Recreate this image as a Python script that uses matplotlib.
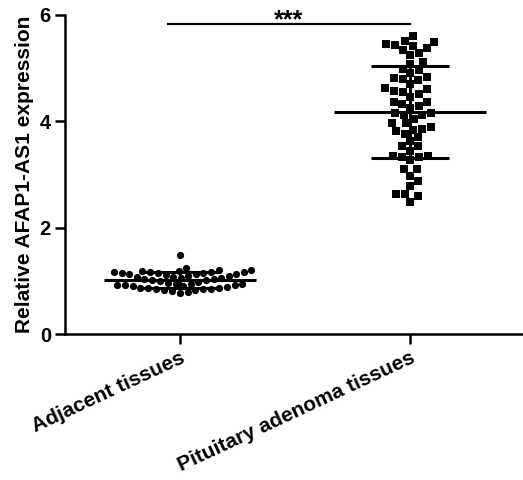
import numpy as np
import matplotlib
matplotlib.use("Agg")
import matplotlib.pyplot as plt

plt.rcParams['font.family'] = ['Liberation Sans', 'DejaVu Sans']
plt.rcParams['font.weight'] = 'bold'

# data
groups = ['Adjacent tissues', 'Pituitary adenoma tissues']
adjacent = [1.49,
            1.24, 1.21, 1.20, 1.19, 1.18, 1.17, 1.17, 1.16, 1.16, 1.15, 1.15,
            1.14, 1.13, 1.12, 1.12, 1.11,
            1.10, 1.09, 1.08, 1.07, 1.06, 1.05, 1.04, 1.03, 1.02, 1.01,
            1.00, 0.98,
            0.96, 0.95, 0.95, 0.94, 0.93, 0.93, 0.92, 0.91, 0.90,
            0.88, 0.87, 0.86, 0.86, 0.85, 0.84, 0.84, 0.83, 0.82, 0.81,
            0.79, 0.78]
adenoma = [5.60, 5.51, 5.46, 5.49, 5.41, 5.43, 5.34, 5.38, 5.29, 5.25, 5.11, 5.08,
           4.99, 4.96, 4.90, 4.83, 4.80, 4.77, 4.81, 4.70, 4.62, 4.57, 4.52, 4.46,
           4.55, 4.60, 4.37, 4.32, 4.25, 4.29, 4.36, 4.15, 4.12, 4.05, 4.12, 4.16,
           3.96, 3.86, 3.81, 3.76, 3.84, 3.90, 3.96, 3.70, 3.63, 3.53, 3.53, 3.45,
           3.35, 3.32, 3.27, 3.33, 3.35, 3.10, 3.10, 2.98, 2.88, 2.78, 2.63, 2.59,
           2.63, 2.49]
signif = '***'

fig = plt.figure(figsize=(5.23, 4.8), dpi=100)
ax = fig.add_axes([0.124, 0.304, 0.876, 0.665])
ax.set_xlim(0.5, 2.49)
ax.set_ylim(0, 6)


def swarm(vals, center, diam_px=7.6):
    # simple beeswarm in pixel space so dots don't overlap
    fig.canvas.draw()
    px_x = ax.transData.transform([(1, 0), (2, 0)])
    px_y = ax.transData.transform([(0, 0), (0, 1)])
    sx = px_x[1, 0] - px_x[0, 0]
    sy = px_y[1, 1] - px_y[0, 1]
    order = np.argsort(vals)
    placed = []
    xs = np.zeros(len(vals))
    for i in order:
        y = vals[i] * sy
        k = 0
        while True:
            off = ((k + 1) // 2) * (1 if k % 2 else -1) * 0.5
            ok = all((off - px) ** 2 + (y - py) ** 2 >= diam_px ** 2 for px, py in placed)
            if ok:
                break
            k += 1
        placed.append((off, y))
        xs[i] = center + off / sx
    return xs


markers = ['o', 's']
spacing = [7.6, 8.8]  # squares need a bit more room
for i, vals in enumerate([adjacent, adenoma]):
    vals = np.array(vals)
    c = i + 1
    xs = swarm(vals, c, spacing[i])
    ax.plot(xs, vals, linestyle='none', marker=markers[i], markersize=5.2,
            color='black', markeredgewidth=0)
    m = vals.mean()
    sd = vals.std(ddof=1)
    ax.plot([c - 0.33, c + 0.33], [m, m], color='black', lw=2.2, solid_capstyle='butt')
    ax.plot([c - 0.17, c + 0.17], [m + sd, m + sd], color='black', lw=2.2, solid_capstyle='butt')
    ax.plot([c - 0.17, c + 0.17], [m - sd, m - sd], color='black', lw=2.2, solid_capstyle='butt')
    ax.plot([c, c], [m - sd, m + sd], color='black', lw=2.2)

# significance bar; stars sit just above the line (asterisk glyph rides high in its box)
ax.plot([0.95, 2.0], [5.83, 5.83], color='black', lw=1.6, clip_on=False)
ax.text(1.47, 5.76, signif, ha='center', va='baseline', fontsize=18, fontweight='bold')

for s in ['top', 'right']:
    ax.spines[s].set_visible(False)
for s in ['left', 'bottom']:
    ax.spines[s].set_linewidth(1.8)

ax.set_yticks([0, 2, 4, 6])
ax.set_xticks([1, 2])
ax.tick_params(axis='both', width=1.8, length=7, labelsize=14.5, pad=3)
ax.set_xticklabels(groups, rotation=25, ha='right', rotation_mode='anchor', fontsize=15)
ax.set_ylabel('Relative AFAP1-AS1 expression', fontsize=15, fontweight='bold', labelpad=4)

fig.savefig('out.png', dpi=100)
